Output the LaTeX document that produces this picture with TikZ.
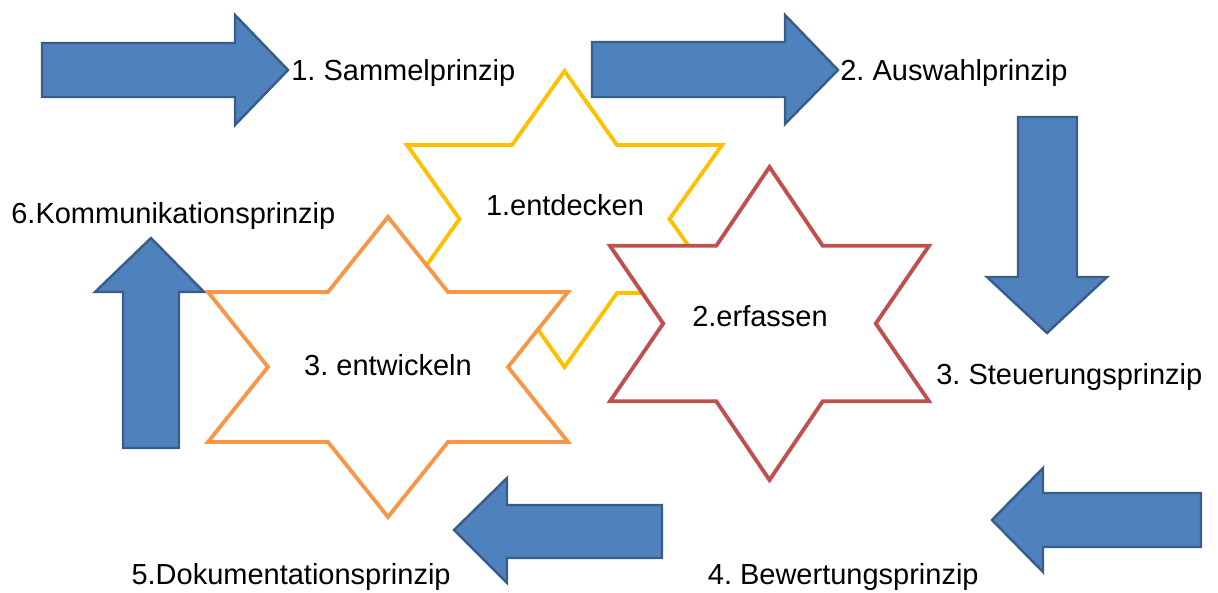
\documentclass[tikz,border=0pt]{standalone}
\usepackage{fontspec}
\setmainfont{Liberation Sans}
\frenchspacing
\definecolor{arrowfill}{HTML}{4F81BD}
\definecolor{arrowline}{HTML}{385D8A}
\definecolor{stargold}{HTML}{FFC000}
\definecolor{starred}{HTML}{C0504D}
\definecolor{starorange}{HTML}{F79646}

\begin{document}
\begin{tikzpicture}[scale=0.2]
\tikzstyle{every node}+=[inner sep=0pt, font=\fontsize{16.5}{20}\selectfont]
\tikzstyle{blockarrow}=[fill=arrowfill, draw=arrowline, line width=1.4pt, line join=miter]
\tikzstyle{starline}=[fill=white, line width=2.2pt, line join=miter]
\useasboundingbox (0,0) rectangle (121.8,-59.2);
% block arrows, clockwise from top left
\filldraw [blockarrow] (4.2,-4.3) -- (23.5,-4.3) -- (23.5,-1.5) -- (28.8,-7.0) -- (23.5,-12.5) -- (23.5,-9.7) -- (4.2,-9.7) -- cycle;
\filldraw [blockarrow] (59.2,-4.2) -- (78.5,-4.2) -- (78.5,-1.5) -- (83.8,-7.0) -- (78.5,-12.4) -- (78.5,-9.7) -- (59.2,-9.7) -- cycle;
\filldraw [blockarrow] (101.8,-11.7) -- (107.7,-11.7) -- (107.7,-27.7) -- (110.7,-27.7) -- (104.7,-33.3) -- (98.7,-27.7) -- (101.8,-27.7) -- cycle;
\filldraw [blockarrow] (120.1,-49.3) -- (104.3,-49.3) -- (104.3,-46.8) -- (99.2,-52.0) -- (104.3,-57.2) -- (104.3,-54.7) -- (120.1,-54.7) -- cycle;
\filldraw [blockarrow] (66.2,-50.5) -- (50.7,-50.5) -- (50.7,-47.8) -- (45.4,-53.0) -- (50.7,-58.3) -- (50.7,-55.8) -- (66.2,-55.8) -- cycle;
\filldraw [blockarrow] (12.3,-44.8) -- (12.3,-29.2) -- (9.5,-29.2) -- (15.1,-23.8) -- (20.4,-29.2) -- (17.9,-29.2) -- (17.9,-44.8) -- cycle;
% stars
\filldraw [starline, draw=stargold] (56.45,-7.1) -- (61.7,-14.5) -- (72.2,-14.5) -- (66.95,-21.9) -- (72.2,-29.3) -- (61.7,-29.3) -- (56.45,-36.7) -- (51.2,-29.3) -- (40.7,-29.3) -- (45.95,-21.9) -- (40.7,-14.5) -- (51.2,-14.5) -- cycle;
\filldraw [starline, draw=starorange] (38.8,-21.7) -- (44.8,-29.2) -- (56.8,-29.2) -- (50.8,-36.7) -- (56.8,-44.2) -- (44.8,-44.2) -- (38.8,-51.7) -- (32.8,-44.2) -- (20.8,-44.2) -- (26.8,-36.7) -- (20.8,-29.2) -- (32.8,-29.2) -- cycle;
\filldraw [starline, draw=starred] (76.95,-16.7) -- (82.27,-24.58) -- (92.9,-24.58) -- (87.58,-32.35) -- (92.9,-40.13) -- (82.27,-40.13) -- (76.95,-48.0) -- (71.63,-40.13) -- (61.0,-40.13) -- (66.32,-32.35) -- (61.0,-24.58) -- (71.63,-24.58) -- cycle;
% labels
\node (entdecken) [anchor=base] at (56.5,-21.5) {1.entdecken};
\node (erfassen) [anchor=base] at (76.0,-32.6) {2.erfassen};
\node (entwickeln) [anchor=base] at (38.8,-37.5) {3. entwickeln};
\node (sammel) [anchor=base west] at (29.1,-8.0) {1. Sammelprinzip};
\node (auswahl) [anchor=base west] at (84.0,-8.0) {2. Auswahlprinzip};
\node (steuerung) [anchor=base west] at (93.6,-38.4) {3. Steuerungsprinzip};
\node (bewertung) [anchor=base east] at (97.9,-58.4) {4. Bewertungsprinzip};
\node (doku) [anchor=base east] at (45.1,-58.4) {5.Dokumentationsprinzip};
\node (kommu) [anchor=base west] at (1.1,-22.3) {6.Kommunikationsprinzip};
\end{tikzpicture}
\end{document}
